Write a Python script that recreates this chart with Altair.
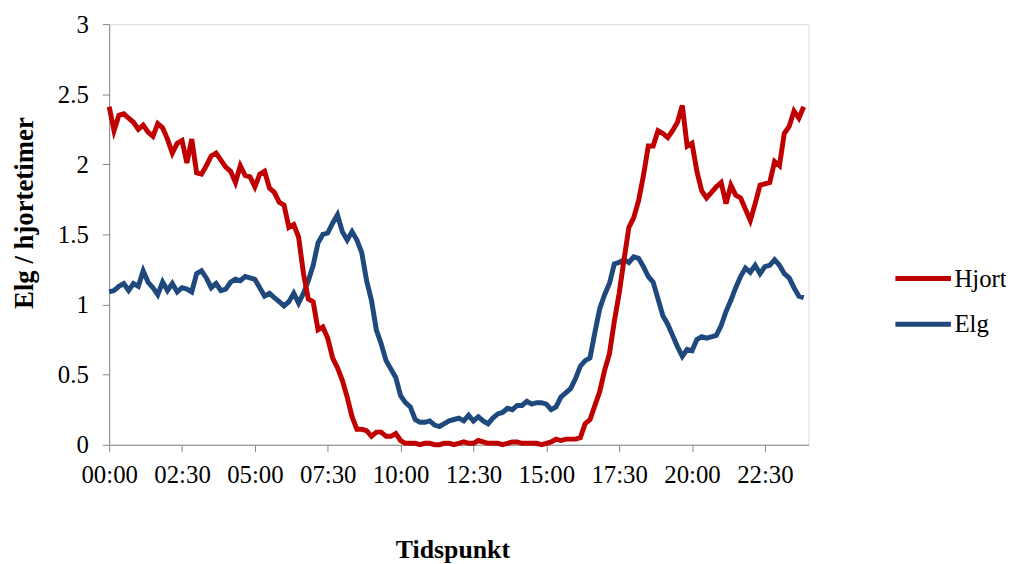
import altair as alt
import pandas as pd

# time of day in minutes (10-minute steps)
minutes = list(range(0, 1440, 10))

hjort = [
    2.41, 2.24, 2.35, 2.36, 2.33, 2.30, 2.25, 2.28, 2.23, 2.20,
    2.29, 2.26, 2.18, 2.08, 2.15, 2.17, 2.01, 2.18, 1.94, 1.93,
    1.99, 2.06, 2.08, 2.03, 1.98, 1.95, 1.87, 1.99, 1.92, 1.91,
    1.84, 1.93, 1.95, 1.83, 1.80, 1.73, 1.71, 1.55, 1.57, 1.48,
    1.22, 1.04, 1.02, 0.82, 0.84, 0.76, 0.62, 0.55, 0.46, 0.34,
    0.20, 0.11, 0.11, 0.10, 0.06, 0.09, 0.09, 0.06, 0.06, 0.08,
    0.03, 0.01, 0.01, 0.01, 0.00, 0.01, 0.01, 0.00, 0.00, 0.01,
    0.01, 0.00, 0.01, 0.02, 0.01, 0.01, 0.03, 0.02, 0.01, 0.01,
    0.01, 0.00, 0.01, 0.02, 0.02, 0.01, 0.01, 0.01, 0.01, 0.00,
    0.01, 0.02, 0.04, 0.03, 0.04, 0.04, 0.04, 0.05, 0.15, 0.18,
    0.28, 0.38, 0.53, 0.65, 0.88, 1.08, 1.32, 1.55, 1.62, 1.74,
    1.92, 2.13, 2.13, 2.24, 2.22, 2.19, 2.24, 2.30, 2.42, 2.13,
    2.15, 1.95, 1.81, 1.76, 1.80, 1.84, 1.87, 1.72, 1.85, 1.78,
    1.76, 1.68, 1.60, 1.72, 1.85, 1.86, 1.87, 2.02, 1.99, 2.22,
    2.27, 2.38, 2.33, 2.41,
]

elg = [
    1.09, 1.10, 1.13, 1.15, 1.10, 1.15, 1.13, 1.24, 1.16, 1.12,
    1.07, 1.16, 1.10, 1.15, 1.09, 1.12, 1.11, 1.09, 1.22, 1.24,
    1.19, 1.12, 1.15, 1.10, 1.11, 1.16, 1.18, 1.17, 1.20, 1.19,
    1.18, 1.12, 1.06, 1.08, 1.05, 1.02, 0.99, 1.02, 1.08, 1.01,
    1.08, 1.17, 1.28, 1.44, 1.50, 1.51, 1.58, 1.64, 1.52, 1.46,
    1.52, 1.46, 1.37, 1.17, 1.03, 0.82, 0.72, 0.60, 0.54, 0.48,
    0.35, 0.30, 0.27, 0.18, 0.16, 0.16, 0.17, 0.14, 0.13, 0.15,
    0.17, 0.18, 0.19, 0.17, 0.21, 0.17, 0.20, 0.17, 0.15, 0.19,
    0.22, 0.23, 0.26, 0.25, 0.28, 0.28, 0.31, 0.29, 0.30, 0.30,
    0.29, 0.25, 0.27, 0.34, 0.37, 0.40, 0.47, 0.56, 0.60, 0.62,
    0.80, 0.97, 1.07, 1.15, 1.29, 1.30, 1.32, 1.30, 1.34, 1.33,
    1.27, 1.20, 1.16, 1.04, 0.92, 0.86, 0.78, 0.70, 0.63, 0.68,
    0.67, 0.75, 0.77, 0.76, 0.77, 0.78, 0.85, 0.95, 1.03, 1.12,
    1.20, 1.26, 1.23, 1.28, 1.22, 1.27, 1.28, 1.32, 1.28, 1.22,
    1.19, 1.12, 1.06, 1.05,
]

series_names = ["Hjort", "Elg"]
series_colors = ["#C00000", "#1F497D"]
x_ticks = list(range(0, 1440, 150))
y_ticks = [0, 0.5, 1, 1.5, 2, 2.5, 3]

df_h = pd.DataFrame({"t": minutes, "v": hjort, "serie": "Hjort"})
df_e = pd.DataFrame({"t": minutes, "v": elg, "serie": "Elg"})

FONT = "Liberation Serif"
AXIS_GRAY = "#868686"

label_expr = ("(floor(datum.value/60) < 10 ? '0' : '') + floor(datum.value/60) + ':' + "
              "(datum.value % 60 < 10 ? '0' : '') + (datum.value % 60)")

x_enc = alt.X(
    "t:Q",
    scale=alt.Scale(domain=[0, 1440], nice=False, zero=False),
    axis=alt.Axis(
        title="Tidspunkt",
        values=x_ticks,
        labelExpr=label_expr,
        grid=False,
        tickSize=7,
        labelPadding=11,
        labelFontSize=25,
        labelFont=FONT,
        labelColor="black",
        titleFont=FONT,
        titleFontSize=26,
        titleFontWeight="bold",
        titleColor="black",
        titleX=346,
        titleY=106,
        titleBaseline="middle",
        domainColor=AXIS_GRAY,
        tickColor=AXIS_GRAY,
        labelOverlap=False,
        labelFlush=False,
    ),
)

y_enc = alt.Y(
    "v:Q",
    scale=alt.Scale(domain=[0, 3], nice=False),
    axis=alt.Axis(
        title="Elg / hjortetimer",
        values=y_ticks,
        format="~g",
        grid=False,
        tickSize=7,
        labelPadding=14,
        labelFontSize=25,
        labelFont=FONT,
        labelColor="black",
        titleFont=FONT,
        titleFontSize=27,
        titleFontWeight="bold",
        titleColor="black",
        titleX=-85,
        titleY=190,
        titleAngle=-90,
        titleBaseline="middle",
        titleAlign="center",
        domainColor=AXIS_GRAY,
        tickColor=AXIS_GRAY,
        labelFlush=False,
    ),
)

color_enc = alt.Color(
    "serie:N",
    scale=alt.Scale(domain=series_names, range=series_colors),
    legend=alt.Legend(
        title=None,
        orient="none",
        legendX=798,
        legendY=234,
        symbolType="M-1.4,0H1.4",
        symbolSize=1600,
        symbolStrokeWidth=5,
        labelFont=FONT,
        labelFontSize=25,
        labelColor="black",
        labelOffset=9,
        rowPadding=10,
    ),
)

line_e = alt.Chart(df_e).mark_line(strokeWidth=5).encode(x=x_enc, y=y_enc, color=color_enc)
line_h = alt.Chart(df_h).mark_line(strokeWidth=5).encode(x=x_enc, y=y_enc, color=color_enc)

chart = alt.layer(line_e, line_h).properties(
    width=705,
    height=424,
    autosize=alt.AutoSizeParams(type="none"),
    padding={"left": 102, "top": 14, "right": 199, "bottom": 122},
).configure_view(stroke=None).configure(font=FONT)

chart.save("out.html", embed_options={"renderer": "svg", "actions": False})
